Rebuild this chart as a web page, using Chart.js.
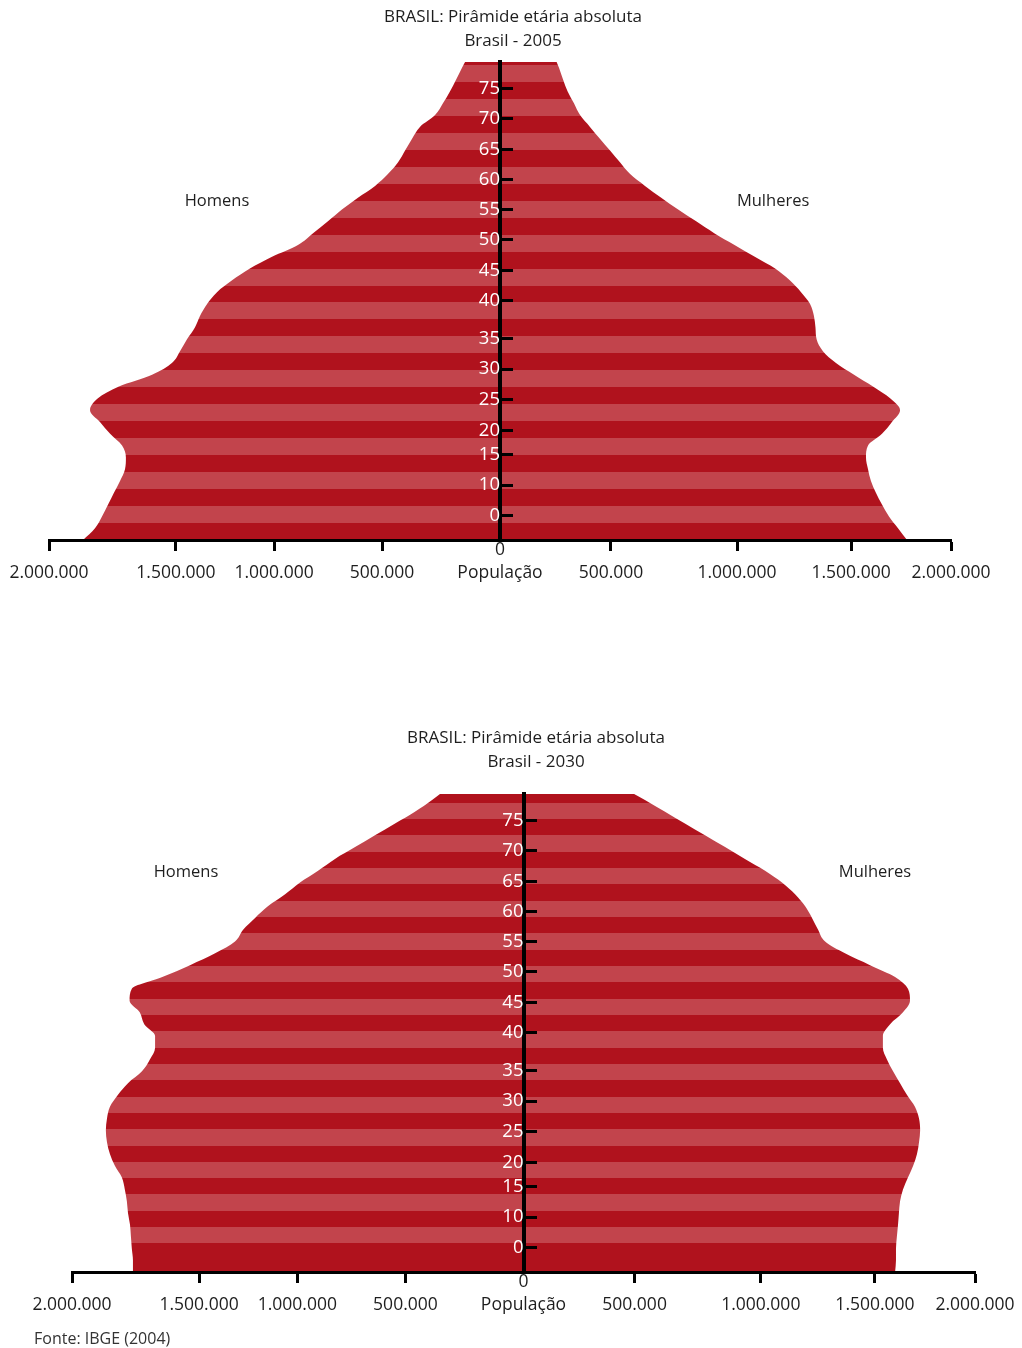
<!DOCTYPE html>
<html lang="pt-BR">
<head>
<meta charset="utf-8">
<title>BRASIL: Pirâmide etária absoluta</title>
<script src="https://cdn.jsdelivr.net/npm/chart.js@4.4.1/dist/chart.umd.min.js"></script>
<style>
  html, body { margin: 0; padding: 0; background: #fff; }
  body { position: relative; width: 1022px; height: 1348px; overflow: hidden; font-family: 'Open Sans', sans-serif; color: #1e1e1e; }
  .chart-box { position: absolute; left: 0; width: 1022px; height: 600px; }
  .titulo { position: absolute; width: 500px; text-align: center; font-size: 17px; line-height: 24px; }
  .fonte { position: absolute; left: 34px; top: 1326px; font-size: 16px; line-height: 24px; color: #333; }
</style>
</head>
<body>
<div class="chart-box" style="top:0"><canvas id="piramide2005"></canvas></div>
<div class="chart-box" style="top:732px"><canvas id="piramide2030"></canvas></div>
<div class="titulo" style="left:263px; top:4px">BRASIL: Pirâmide etária absoluta<br>Brasil - 2005</div>
<div class="titulo" style="left:286px; top:725px">BRASIL: Pirâmide etária absoluta<br>Brasil - 2030</div>
<div class="fonte">Fonte: IBGE (2004)</div>
<script>
const ages = [0, 2, 4, 6, 8, 10, 12, 14, 16, 18, 20, 22, 24, 26, 28, 30, 32, 34, 36, 38, 40,
              42, 44, 46, 48, 50, 52, 54, 56, 58, 60, 62, 64, 66, 68, 70, 72, 74, 76, 78, 80, 81];

const homens2005 = [1849, 1796, 1765, 1738, 1712, 1685, 1663, 1659, 1676, 1729, 1774, 1818, 1783, 1690, 1543,
                    1455, 1419, 1388, 1353, 1330, 1299, 1255, 1188, 1109, 1011, 896, 829, 763, 701, 630,
                    554, 497, 452, 421, 390, 355, 288, 253, 222, 195, 169, 155];
const mulheres2005 = [1805, 1765, 1725, 1694, 1667, 1645, 1632, 1623, 1632, 1694, 1738, 1774, 1730, 1654, 1570,
                      1490, 1432, 1404, 1399, 1392, 1375, 1335, 1285, 1220, 1130, 1040, 950, 870, 790, 715,
                      643, 577, 532, 488, 443, 399, 355, 328, 300, 280, 262, 251];

const homens2030 = [1730, 1730, 1735, 1739, 1743, 1752, 1757, 1766, 1779, 1810, 1832, 1845, 1850, 1845, 1832,
                    1797, 1752, 1690, 1655, 1632, 1632, 1680, 1700, 1745, 1735, 1600, 1477, 1366, 1278, 1242,
                    1189, 1131, 1056, 990, 910, 835, 746, 658, 569, 481, 405, 370];
const mulheres2030 = [1646, 1650, 1650, 1654, 1659, 1663, 1668, 1681, 1703, 1726, 1743, 1752, 1757, 1752, 1734,
                      1699, 1668, 1637, 1610, 1592, 1592, 1624, 1681, 1712, 1703, 1646, 1535, 1424, 1336, 1305,
                      1278, 1247, 1203, 1145, 1070, 981, 893, 804, 715, 627, 538, 490];

// marcas dos eixos, nas posições em que o original as desenha
const ageTickAt = [4.1, 9.3, 14.5, 18.55, 23.8, 28.95, 34.1, 40.55, 45.7, 50.9, 56.05, 61.1, 66.2, 71.45, 76.55];
const ageTickLabels = ['0', '10', '15', '20', '25', '30', '35', '40', '45', '50', '55', '60', '65', '70', '75'];
const popTickAt = [-2000, -1437, -1002, -523, 0, 492, 1051, 1557, 2000];
const popTickLabels = ['2.000.000', '1.500.000', '1.000.000', '500.000', '0',
                       '500.000', '1.000.000', '1.500.000', '2.000.000'];
const axisTitle = 'População';

const darkRed = '#b0121d';
const lightRed = '#c2444c';

// faixas horizontais alternadas, presas à escala de idade
// (abaixo da primeira faixa o gradiente mantém a cor escura)
function stripes(bandYears, firstDark) {
    return function (context) {
        const chart = context.chart;
        const yScale = chart.scales.y;
        if (!chart.chartArea || !yScale) return darkRed;
        const span = yScale.max - yScale.min;
        const g = chart.ctx.createLinearGradient(0, yScale.getPixelForValue(yScale.min),
                                                 0, yScale.getPixelForValue(yScale.max));
        for (let a = firstDark, k = 0; a < span; a += bandYears, k++) {
            const c = k % 2 === 0 ? darkRed : lightRed;
            g.addColorStop(Math.max(a, 0) / span, c);
            g.addColorStop(Math.min(a + bandYears, span) / span, c);
        }
        return g;
    };
}

function drawPyramid(canvasId, homens, mulheres, pad, bands, sexLabels) {
    const labelPlugin = {
        id: 'sexLabels',
        afterDraw(chart) {
            const { ctx, scales } = chart;
            ctx.save();
            ctx.font = '16.5px "Open Sans"';
            ctx.fillStyle = '#1e1e1e';
            ctx.textAlign = 'center';
            ctx.textBaseline = 'middle';
            sexLabels.forEach(l => {
                ctx.fillText(l.text, scales.x.getPixelForValue(l.x), scales.y.getPixelForValue(l.y));
            });
            ctx.restore();
        }
    };

    const area = {
        fill: 'origin',
        backgroundColor: stripes(bands.years, bands.start),
        borderWidth: 0,
        pointRadius: 0,
        pointHoverRadius: 0,
        cubicInterpolationMode: 'monotone'
    };

    return new Chart(document.getElementById(canvasId), {
        type: 'line',
        data: {
            datasets: [
                Object.assign({ label: 'Homens', data: ages.map((a, i) => ({ x: -homens[i], y: a })) }, area),
                Object.assign({ label: 'Mulheres', data: ages.map((a, i) => ({ x: mulheres[i], y: a })) }, area)
            ]
        },
        options: {
            indexAxis: 'y',
            responsive: true,
            maintainAspectRatio: false,
            animation: false,
            layout: { padding: pad },
            plugins: {
                legend: { display: false },
                tooltip: { enabled: false },
                title: { display: false }
            },
            scales: {
                x: {
                    type: 'linear',
                    min: -2000,
                    max: 2000,
                    afterBuildTicks: s => { s.ticks = popTickAt.map(v => ({ value: v })); },
                    afterFit: s => { s.height = 60; },
                    border: { display: true, color: '#000', width: 3, z: 1 },
                    grid: {
                        drawOnChartArea: false,
                        drawTicks: true,
                        tickLength: 11,
                        tickWidth: 3,
                        tickColor: c => (c.tick && c.tick.value === 0) ? 'rgba(0,0,0,0)' : '#000',
                        z: 1
                    },
                    ticks: {
                        autoSkip: false,
                        maxRotation: 0,
                        padding: -12,
                        color: '#1e1e1e',
                        font: { family: 'Open Sans', size: 17.5, lineHeight: 1.3 },
                        callback: (v, i) => popTickAt[i] === 0 ? [popTickLabels[i], axisTitle] : ['', popTickLabels[i]]
                    }
                },
                y: {
                    type: 'linear',
                    min: 0,
                    max: 81,
                    position: { x: 0 },
                    afterBuildTicks: s => { s.ticks = ageTickAt.map(v => ({ value: v })); },
                    border: { display: true, color: '#000', width: 4, z: 1 },
                    grid: {
                        drawOnChartArea: false,
                        drawTicks: true,
                        tickLength: -15,
                        tickWidth: 3,
                        tickColor: '#000',
                        z: 1
                    },
                    ticks: {
                        autoSkip: false,
                        padding: 21,
                        color: '#fff',
                        z: 1,
                        font: { family: 'Open Sans', size: 18.5 },
                        callback: (v, i) => ageTickLabels[i]
                    }
                }
            }
        },
        plugins: [labelPlugin]
    });
}

drawPyramid('piramide2005', homens2005, mulheres2005,
    { top: 62, left: 49, right: 71, bottom: 0 },
    { years: 2.875, start: 0 },
    [{ text: 'Homens', x: -1255, y: 57.4 }, { text: 'Mulheres', x: 1211, y: 57.4 }]);

drawPyramid('piramide2030', homens2030, mulheres2030,
    { top: 62, left: 72, right: 47, bottom: 0 },
    { years: 2.766, start: 2.07 },
    [{ text: 'Homens', x: -1495, y: 67.8 }, { text: 'Mulheres', x: 1557, y: 67.8 }]);
</script>
</body>
</html>
